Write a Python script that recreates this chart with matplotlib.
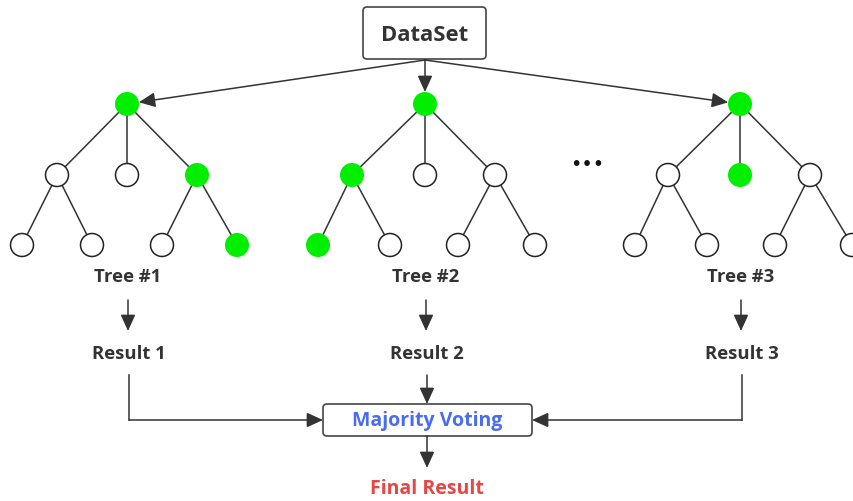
import numpy as np
import matplotlib.pyplot as plt
from matplotlib.patches import Circle, FancyBboxPatch, FancyArrowPatch

# Diagram content
tree_names = ["Tree #1", "Tree #2", "Tree #3"]
result_names = ["Result 1", "Result 2", "Result 3"]
top_label = "DataSet"
vote_label = "Majority Voting"
final_label = "Final Result"

# which nodes are on the decision path (root, level 2 [L, M, R], leaves [1..4])
root_on = [True, True, True]
mid_on = [[False, False, True], [True, False, False], [False, True, False]]
leaf_on = [[False, False, False, True], [True, False, False, False], [False, False, False, False]]

# layout (pixels)
tree_x = [127, 425, 740]
mid_dx = [[-70, 0, 70], [-73, 0, 70], [-72, 0, 70]]
leaf_dx = [[-105, -35, 35, 110], [-107, -35, 33, 110], [-105, -33, 35, 112]]
leaf_parent = [0, 0, 2, 2]
y_root, y_mid, y_leaf = 104, 175, 245
r = 12

ink = "#333333"
green = "#00ee00"

fig = plt.figure(figsize=(8.54, 5.01), dpi=100)
ax = fig.add_axes([0, 0, 1, 1])
ax.set_xlim(0, 854)
ax.set_ylim(501, 0)
ax.axis("off")

font = ["Open Sans", "DejaVu Sans"]


def node(x, y, on):
    if on:
        ax.add_patch(Circle((x, y), r, facecolor=green, edgecolor="none", zorder=3))
    else:
        ax.add_patch(Circle((x, y), r - 0.5, facecolor="white", edgecolor="#222222", lw=1.1, zorder=3))


def edge(p, q):
    ax.plot([p[0], q[0]], [p[1], q[1]], color=ink, lw=1.1, zorder=1)


def arrow(p, q):
    ax.add_patch(FancyArrowPatch(p, q, arrowstyle="-|>,head_length=0.55,head_width=0.25",
                                 mutation_scale=18, color=ink, lw=1.1, shrinkA=0, shrinkB=0, zorder=2))


def box(x0, y0, x1, y1):
    ax.add_patch(FancyBboxPatch((x0, y0), x1 - x0, y1 - y0, boxstyle="round,pad=0,rounding_size=4",
                                facecolor="white", edgecolor="#444444", lw=1.2, zorder=2))


# DataSet box
box(363, 7, 486, 59)
ax.text(425, 35, top_label, ha="center", va="center", fontsize=15.8, fontweight="bold",
        color=ink, family=font, zorder=4)

# trees
for t in range(3):
    rx = tree_x[t]
    node(rx, y_root, root_on[t])
    # arrow from DataSet to root
    start = np.array([425.0, 60.0])
    end = np.array([rx, y_root], dtype=float)
    d = end - start
    end = end - d / np.hypot(*d) * r
    arrow(tuple(start), tuple(end))
    mids = [(rx + dx, y_mid) for dx in mid_dx[t]]
    for i, m in enumerate(mids):
        edge((rx, y_root), m)
        node(m[0], m[1], mid_on[t][i])
    for j, dx in enumerate(leaf_dx[t]):
        lf = (rx + dx, y_leaf)
        edge(mids[leaf_parent[j]], lf)
        node(lf[0], lf[1], leaf_on[t][j])
    ax.text(rx + 1, 277, tree_names[t], ha="center", va="center", fontsize=13.3,
            fontweight="bold", color=ink, family=font)
    arrow((rx + 1, 300), (rx + 1, 331))
    ax.text(rx + 2, 354, result_names[t], ha="center", va="center", fontsize=13.3,
            fontweight="bold", color=ink, family=font)

ax.text(587, 164, "•••", ha="center", va="center", fontsize=14, color="#111111",
        family="DejaVu Sans")

# voting box
vx0, vy0, vx1, vy1 = 323, 404, 532, 436
vy = (vy0 + vy1) / 2
box(vx0, vy0, vx1, vy1)
ax.text(427, vy + 1, vote_label, ha="center", va="center", fontsize=14, fontweight="bold",
        color="#4a6cf0", family=font, zorder=4)

# connectors into the voting box
arrow((427, 375), (427, vy0))
ax.plot([tree_x[0] + 2, tree_x[0] + 2], [375, vy], color=ink, lw=1.1)
arrow((tree_x[0] + 2, vy), (vx0, vy))
ax.plot([tree_x[2] + 2, tree_x[2] + 2], [375, vy], color=ink, lw=1.1)
arrow((tree_x[2] + 2, vy), (vx1, vy))

arrow((427, vy1), (427, 468))
ax.text(427, 489, final_label, ha="center", va="center", fontsize=14, fontweight="bold",
        color="#e84545", family=font)

fig.savefig("out.png", dpi=100)
